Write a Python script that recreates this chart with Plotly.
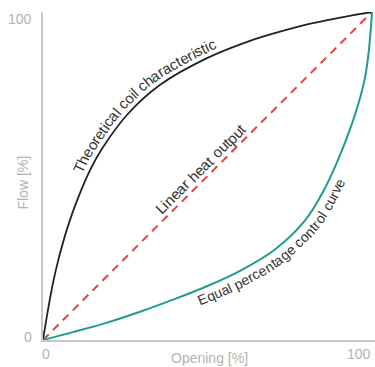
import math
import numpy as np
import plotly.graph_objects as go

# ---------------- data ----------------
opening_coil = [0, 1.5, 3.0, 4.6, 7.6, 10.6, 14.6, 17.6, 25.5, 35.6, 50.0, 62.9, 72.0, 82.0, 92.4, 100]
flow_coil = [0, 9.1, 17.2, 24.2, 34.8, 43.2, 52.4, 57.8, 68.6, 77.8, 86.0, 91.2, 94.0, 96.6, 98.7, 100]

opening_linear = [0, 100]
flow_linear = [0, 100]

opening_eq = [0, 9.1, 19.5, 29.5, 39.5, 49.8, 59.9, 70.5, 79.6, 84.8, 89.7, 94.2, 97.6, 98.9, 100]
flow_eq = [0, 2.4, 5.3, 8.6, 12.3, 16.4, 21.1, 27.6, 36.4, 44.6, 55.0, 66.8, 78.7, 87.0, 100]

x_tick_vals = [0, 100]
x_tick_text = ["0", "100"]
y_tick_vals = [0, 100]
y_tick_text = ["0", "100"]

label_coil = "Theoretical coil characteristic"
label_linear = "Linear heat output"
label_eq = "Equal percentage control curve"
x_title = "Opening [%]"
y_title = "Flow [%]"

# ---------------- layout constants ----------------
W, H = 375, 367
ML, MR, MT, MB = 43, 0, 12, 27
XMAX, YMAX = 100.9, 100.0
PW, PH = W - ML - MR, H - MT - MB
FONT = "Liberation Sans, Arial, sans-serif"
TEXT_COL = "#333333"
AXIS_TXT = "#b3b3b3"

C_COIL = "#222222"
C_LIN = "#e0443f"
C_EQ = "#1e9c8d"


def to_px(x, y):
    return ML + x * PW / XMAX, MT + (YMAX - y) * PH / YMAX


def to_data(px, py):
    return (px - ML) * XMAX / PW, YMAX - (py - MT) * YMAX / PH


CW = {"T": .611, "h": .556, "e": .556, "o": .556, "r": .333, "t": .278, "i": .222,
      "c": .5, "a": .556, "l": .222, "s": .5, " ": .278, "L": .556, "n": .556,
      "u": .556, "p": .556, "E": .667, "q": .556, "g": .556, "v": .5}


def dense_path(xs, ys, n=30):
    P = np.array([to_px(x, y) for x, y in zip(xs, ys)], dtype=float)
    ext = np.vstack([2 * P[0] - P[1], P, 2 * P[-1] - P[-2]])
    out = []
    for i in range(1, len(ext) - 2):
        p0, p1, p2, p3 = ext[i - 1], ext[i], ext[i + 1], ext[i + 2]
        for t in np.linspace(0, 1, n, endpoint=False):
            t2, t3 = t * t, t * t * t
            pt = 0.5 * ((2 * p1) + (-p0 + p2) * t + (2 * p0 - 5 * p1 + 4 * p2 - p3) * t2
                        + (-p0 + 3 * p1 - 3 * p2 + p3) * t3)
            out.append(pt)
    out.append(P[-1])
    return np.array(out)


def curved_label(text, xs, ys, anchor_x, offset, size, mode="start"):
    pts = dense_path(xs, ys)
    tang = np.gradient(pts, axis=0)
    tang /= np.linalg.norm(tang, axis=1, keepdims=True)
    up = np.column_stack([tang[:, 1], -tang[:, 0]])
    opts = pts + up * offset
    seg = np.linalg.norm(np.diff(opts, axis=0), axis=1)
    s = np.concatenate([[0], np.cumsum(seg)])
    ax_px = ML + anchor_x * PW / XMAX
    idx = int(np.argmin(np.abs(pts[:, 0] - ax_px)))
    total = sum(CW.get(ch, .556) * size for ch in text)
    pos = s[idx] if mode == "start" else s[idx] - total / 2
    anns = []
    for ch in text:
        w = CW.get(ch, .556) * size
        sc = pos + w / 2
        pos += w
        if ch == " ":
            continue
        px = np.interp(sc, s, opts[:, 0])
        py = np.interp(sc, s, opts[:, 1])
        j = int(np.clip(np.searchsorted(s, sc), 1, len(s) - 1))
        a = max(j - 4, 0)
        b = min(j + 4, len(s) - 1)
        d = opts[b] - opts[a]
        ang = math.degrees(math.atan2(d[1], d[0]))
        dx, dy = to_data(px, py)
        anns.append(dict(x=dx, y=dy, xref="x", yref="y", text=ch, showarrow=False,
                         textangle=ang, xanchor="center", yanchor="middle",
                         font=dict(family=FONT, size=size, color=TEXT_COL)))
    return anns


fig = go.Figure()
fig.add_trace(go.Scatter(x=opening_linear, y=flow_linear, mode="lines",
                         line=dict(color=C_LIN, width=2, dash="8px,6px"), hoverinfo="skip"))
fig.add_trace(go.Scatter(x=opening_coil, y=flow_coil, mode="lines",
                         line=dict(color=C_COIL, width=1.8, shape="spline"), hoverinfo="skip"))
fig.add_trace(go.Scatter(x=opening_eq, y=flow_eq, mode="lines",
                         line=dict(color=C_EQ, width=2, shape="spline"), hoverinfo="skip"))

anns = []
anns += curved_label(label_coil, opening_coil, flow_coil, 13.5, 10.5, 15, "start")
anns += curved_label(label_linear, opening_linear, flow_linear, 50.0, 10, 15, "center")
anns += curved_label(label_eq, opening_eq, flow_eq, 46.0, -10.5, 14, "start")

tick_font = dict(family=FONT, size=14, color=AXIS_TXT)
x_shifts = [3, -13]
for v, t, xs in zip(x_tick_vals, x_tick_text, x_shifts):
    anns.append(dict(x=v, y=0, xref="x", yref="paper", text=t, showarrow=False,
                     xanchor="center", yanchor="middle", xshift=xs, yshift=-14, font=tick_font))
y_shifts = [3, -7]
for v, t, ys in zip(y_tick_vals, y_tick_text, y_shifts):
    anns.append(dict(x=0, y=v, xref="paper", yref="y", text=t, showarrow=False,
                     xanchor="right", yanchor="middle", xshift=-9, yshift=ys, font=tick_font))
anns.append(dict(x=0.5, y=0, xref="paper", yref="paper", text=x_title, showarrow=False,
                 xanchor="center", yanchor="middle", yshift=-18, font=tick_font))
anns.append(dict(x=0, y=0.48, xref="paper", yref="paper", text=y_title, showarrow=False,
                 textangle=-90, xanchor="center", yanchor="middle", xshift=-20, font=tick_font))

fig.update_layout(
    width=W, height=H,
    margin=dict(l=ML, r=MR, t=MT, b=MB, pad=0),
    paper_bgcolor="white", plot_bgcolor="white",
    showlegend=False,
    annotations=anns,
    xaxis=dict(range=[0, XMAX], showgrid=False, zeroline=False, showticklabels=False,
               showline=True, linecolor="#c6c6c6", linewidth=2, ticks="", fixedrange=True),
    yaxis=dict(range=[0, YMAX], showgrid=False, zeroline=False, showticklabels=False,
               showline=True, linecolor="#c6c6c6", linewidth=2, ticks="", fixedrange=True),
)

fig.write_html("out.html", config={"displayModeBar": False},
               post_script="document.body.style.margin='0px';document.body.style.overflow='hidden';")
